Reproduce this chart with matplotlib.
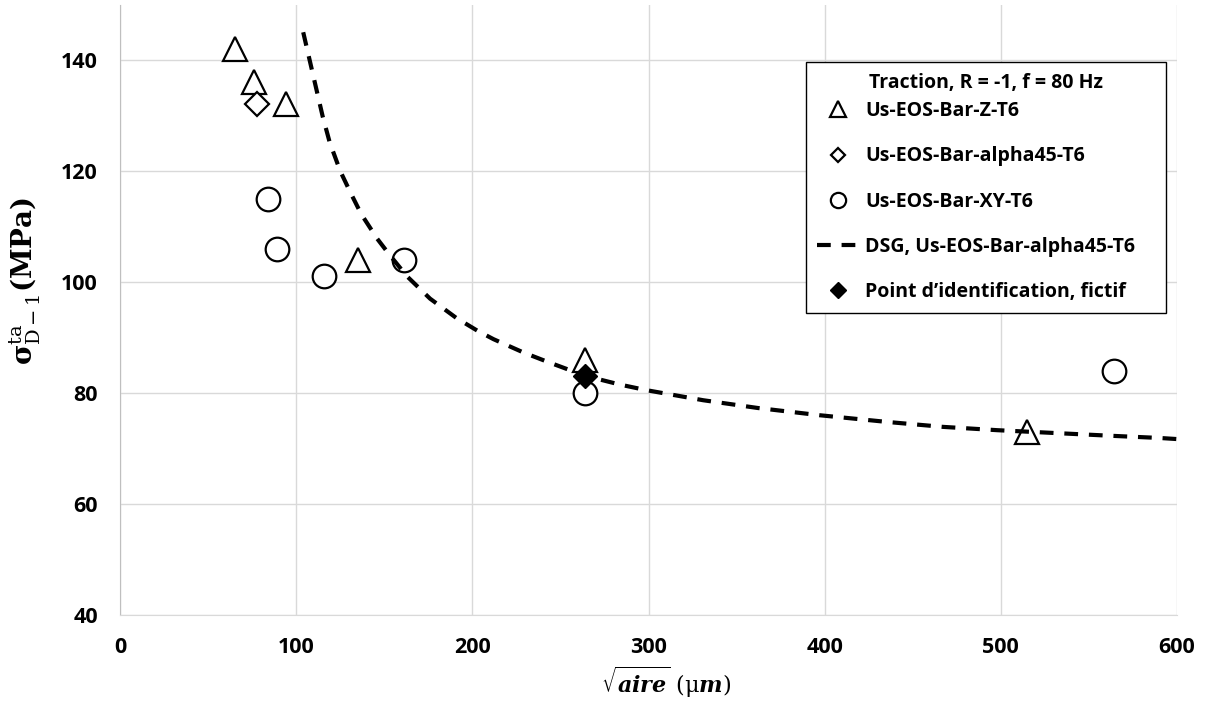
import matplotlib
matplotlib.use("Agg")
import matplotlib.pyplot as plt
from matplotlib.lines import Line2D

# ---- data ----
z_x = [65, 76, 94, 135, 264, 515]
z_y = [142, 136, 132, 104, 86, 73]

a45_x = [78]
a45_y = [132]

xy_x = [84, 89, 116, 161, 264, 564]
xy_y = [115, 106, 101, 104, 80, 84]

dsg_x = [104, 108, 115, 119, 125, 131, 137, 146, 153, 163, 176, 191, 203,
         212, 229, 242, 264, 284, 299, 331, 362, 397, 435, 467, 498, 530,
         562, 590, 600]
dsg_y = [145.0, 139.5, 129.9, 125.2, 120.0, 116.0, 112.2, 107.8, 104.9, 101.0,
         97.0, 93.5, 91.2, 89.7, 87.3, 85.7, 83.1, 81.5, 80.5, 78.7, 77.3,
         76.0, 74.8, 73.9, 73.3, 72.8, 72.3, 71.9, 71.7]

ident_x = [264]
ident_y = [83]

x_ticks = [0, 100, 200, 300, 400, 500, 600]
y_ticks = [40, 60, 80, 100, 120, 140]

legend_title = "Traction, R = -1, f = 80 Hz"
labels = ["Us-EOS-Bar-Z-T6", "Us-EOS-Bar-alpha45-T6", "Us-EOS-Bar-XY-T6",
          "DSG, Us-EOS-Bar-alpha45-T6", "Point d\u2019identification, fictif"]

plt.rcParams['font.family'] = ['Open Sans', 'DejaVu Sans']
plt.rcParams['mathtext.fontset'] = 'dejavuserif'

W, H = 1206, 701
fig = plt.figure(figsize=(W / 100, H / 100), dpi=100)
ax = fig.add_axes([120 / W, 1 - 615 / H, (1177 - 120) / W, (615 - 4.5) / H])

ax.set_xlim(0, 600)
ax.set_ylim(40, 150)
ax.set_xticks(x_ticks)
ax.set_yticks(y_ticks)
ax.set_xticklabels([str(v) for v in x_ticks], fontweight='bold', fontsize=15.5)
ax.set_yticklabels([str(v) for v in y_ticks], fontweight='bold', fontsize=15.5)
ax.grid(True, color='#d9d9d9', lw=1)
ax.set_axisbelow(True)
for s in ['top', 'right']:
    ax.spines[s].set_visible(False)
ax.spines['left'].set_color('#bfbfbf')
ax.spines['bottom'].set_color('#d9d9d9')
ax.tick_params(length=0, pad=16)

mk = dict(linestyle='none', markerfacecolor='white', markeredgecolor='black',
          markeredgewidth=1.6)
ax.plot(z_x, z_y, marker='^', markersize=17, zorder=3, **mk)
ax.plot(a45_x, a45_y, marker='D', markersize=12, zorder=3, **mk)
ax.plot(xy_x, xy_y, marker='o', markersize=17, zorder=3, **mk)
ax.plot(dsg_x, dsg_y, color='black', lw=3, dashes=(3.3, 2.6),
        dash_capstyle='butt', zorder=4)
ax.plot(ident_x, ident_y, linestyle='none', marker='D', markersize=12,
        color='black', zorder=5)

ax.set_xlabel(r'$\sqrt{\mathbfit{aire}}\ (\mathrm{\mu}\mathbfit{m})$',
              fontsize=16)
ax.xaxis.set_label_coords(0.5166, -0.082)
ax.set_ylabel(r'$\mathbf{\sigma}^{\mathrm{ta}}_{\mathrm{D-1}}\mathbf{(MPa)}$',
              fontsize=20)
ax.yaxis.set_label_coords(-0.073, 0.547)

lmk = dict(linestyle='none', markerfacecolor='white', markeredgecolor='black',
           markeredgewidth=1.6)
handles = [
    Line2D([], [], marker='^', markersize=11, **lmk),
    Line2D([], [], marker='D', markersize=7.5, **lmk),
    Line2D([], [], marker='o', markersize=11, **lmk),
    Line2D([], [], color='black', lw=3, dashes=(3.3, 2.6), dash_capstyle='butt'),
    Line2D([], [], linestyle='none', marker='D', markersize=8.5, color='black'),
]
shown = list(labels)
shown[3] = shown[3] + "\u2002\u2002"
leg = ax.legend(handles, shown, title=legend_title,
                loc='upper left', bbox_to_anchor=(806 / W, 1 - 62 / H),
                bbox_transform=fig.transFigure,
                prop={'weight': 'bold', 'size': 14},
                title_fontproperties={'weight': 'bold', 'size': 14},
                frameon=True, fancybox=False, edgecolor='black',
                framealpha=1, labelspacing=1.3, handlelength=2.2,
                handletextpad=0.3, borderpad=0.55, borderaxespad=0)
leg.get_frame().set_linewidth(1.0)
leg._legend_box.sep = 6

fig.savefig('out.png', dpi=100)
